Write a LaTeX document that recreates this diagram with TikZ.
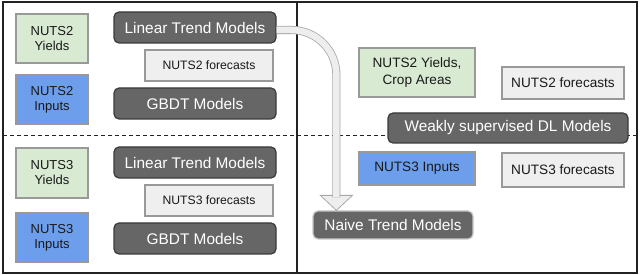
\documentclass[tikz,border=0pt]{standalone}
\usepackage{fontspec}
\setmainfont{Liberation Sans}
\usetikzlibrary{backgrounds}
\definecolor{darkfill}{HTML}{666666}
\definecolor{darkline}{HTML}{3A3A3A}
\definecolor{greenfill}{HTML}{D9EAD3}
\definecolor{bluefill}{HTML}{6D9EEB}
\definecolor{lightfill}{HTML}{EFEFEF}
\definecolor{boxline}{HTML}{999999}
\definecolor{arrowfill}{HTML}{EEEEEE}
\definecolor{arrowline}{HTML}{A8A8A8}
\definecolor{frameline}{HTML}{222222}
\tikzset{
  x=1pt, y=-1pt,
  darkbox/.style={draw=darkline, line width=1.2pt, fill=darkfill, rounded corners=5pt,
    text=white, inner sep=0pt, font=\fontsize{15.4}{18}\selectfont},
  lightbase/.style={draw=boxline, line width=1.2pt, inner sep=0pt, text=black!90, align=center},
  greenbox/.style={lightbase, fill=greenfill},
  bluebox/.style={lightbase, fill=bluefill},
  graybox/.style={lightbase, fill=lightfill},
  leftfont/.style={font=\fontsize{13}{15}\selectfont},
  smallfont/.style={font=\fontsize{12.2}{14}\selectfont},
  rightfont/.style={font=\fontsize{13.6}{16.5}\selectfont},
  shaft/.style={draw=arrowline, line width=0.8pt, double=arrowfill, double distance=6.5pt, rounded corners=45pt},
  arrowhead/.style={draw=arrowline, line width=0.8pt, fill=arrowfill, line join=miter},
}
\begin{document}
\begin{tikzpicture}
\useasboundingbox (0,0) rectangle (640,275);
% left upper
\node[greenbox, leftfont, minimum width=72pt, minimum height=49pt] (y2) at (52,38.5) {NUTS2\\Yields};
\node[bluebox, leftfont, minimum width=72pt, minimum height=49pt] (i2) at (52,99.5) {NUTS2\\Inputs};
\node[darkbox, minimum width=162pt, minimum height=31pt] (ltm2) at (195,27.5) {Linear Trend Models};
\node[graybox, smallfont, minimum width=128pt, minimum height=31pt] (f2) at (209,65.5) {NUTS2 forecasts};
\node[darkbox, minimum width=162pt, minimum height=31pt] (gb2) at (195,103.5) {GBDT Models};
% left lower
\node[greenbox, leftfont, minimum width=72pt, minimum height=50pt] (y3) at (52,173) {NUTS3\\Yields};
\node[bluebox, leftfont, minimum width=72pt, minimum height=49pt] (i3) at (52,237.5) {NUTS3\\Inputs};
\node[darkbox, minimum width=162pt, minimum height=31pt] (ltm3) at (195,162.5) {Linear Trend Models};
\node[graybox, smallfont, minimum width=128pt, minimum height=31pt] (f3) at (209,200.5) {NUTS3 forecasts};
\node[darkbox, minimum width=162pt, minimum height=31pt] (gb3) at (195,238.5) {GBDT Models};
% right
\node[greenbox, rightfont, minimum width=116pt, minimum height=49pt] (ry) at (417,72.5) {NUTS2 Yields,\\Crop Areas};
\node[graybox, rightfont, minimum width=122pt, minimum height=32pt] (rf2) at (563,83) {NUTS2 forecasts};
\node[darkbox, minimum width=240pt, minimum height=30pt] (wdl) at (508,128) {Weakly supervised DL Models};
\node[bluebox, rightfont, minimum width=116pt, minimum height=33pt] (ri3) at (417,168.5) {NUTS3 Inputs};
\node[graybox, rightfont, minimum width=122pt, minimum height=34pt] (rf3) at (563,170) {NUTS3 forecasts};
\node[darkbox, draw=black!22, minimum width=160pt, minimum height=28pt] (naive) at (393,225) {Naive Trend Models};
% frame
\begin{pgfonlayer}{background}
\draw[frameline, line width=0.8pt, dash pattern=on 4pt off 3pt] (3,135) -- (637,135);
\draw[frameline, line width=2pt] (3,2) rectangle (637,273);
\draw[frameline, line width=2pt] (297,2) -- (297,273);
\end{pgfonlayer}
% arrow
\coordinate (tip) at ([xshift=24pt]naive.north west);
\draw[arrowhead] (tip) -- +(-16,-15) -- +(16,-15) -- cycle;
\draw[shaft] ([yshift=-2.5pt]ltm2.east) -- ([yshift=-2.5pt]ltm2.east -| tip) -- ([yshift=13pt]tip);
\end{tikzpicture}
\end{document}
